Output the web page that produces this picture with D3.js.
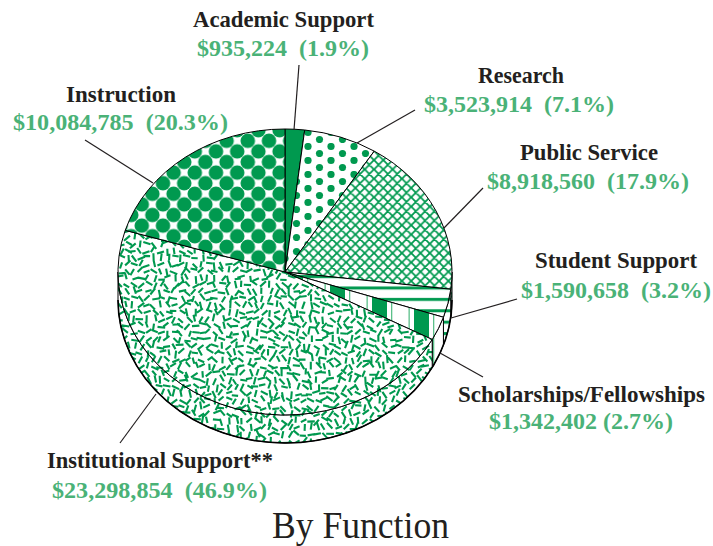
<!DOCTYPE html>
<html><head><meta charset="utf-8">
<script src="https://cdn.jsdelivr.net/npm/d3@7/dist/d3.min.js"></script>
<style>html,body{margin:0;background:#fff}svg{display:block}text{font-family:"Liberation Serif",serif;white-space:pre}</style>
</head><body><div id="chart"></div>
<script>
const categories = ["Academic Support","Research","Public Service","Student Support","Scholarships/Fellowships","Institutional Support**","Instruction"];
const amounts = [935224,3523914,8918560,1590658,1342402,23298854,10084785];
const percents = [1.9,7.1,17.9,3.2,2.7,46.9,20.3];
const gaps = ["  ","  ","  ","  "," ","  ","  "];
const patternIds = ["solid","dots","hatch","hstripes","vstripes","confetti","bigdots"];
const title = "By Function";

// layout, kept apart from the data: [name left, name right, name baseline, value left, value right, value baseline]
const labelBoxes = [
 [193,374,27, 197,369,56],
 [478,564,83, 424,614,112],
 [520,658,160, 487,689,189],
 [535,697,268, 521,711,298],
 [458,705,402, 489,673,429],
 [47,273,468, 52,267,498],
 [66,176,102, 13,228,130]];
const leaderLines = [
 [299,65,294,130],[415,110,357,143],[483,188,444,228],[517,299,451,318],
 [483,377,440,353],[120,443,156,394],[85,140,153,183]];

const W=713,H=546,GREEN="#00994f",TEXTGREEN="#4ab277",INK="#231f20";
const cx=285,cy=272,rx=167,ry=143,depth=28;
const sx=d3.scaleLinear().domain([-1,1]).range([cx-rx,cx+rx]);
const sy=d3.scaleLinear().domain([-1,1]).range([cy-ry,cy+ry]);
const px=a=>sx(Math.sin(a)), py=(a,dz=0)=>sy(-Math.cos(a))+dz;

const svg=d3.select("#chart").append("svg").attr("width",W).attr("height",H);
const defs=svg.append("defs");
function pat(id,w,h,x=0,y=0){return defs.append("pattern").attr("id",id).attr("patternUnits","userSpaceOnUse")
  .attr("width",w).attr("height",h).attr("x",x).attr("y",y);}
pat("solid",10,10).append("rect").attr("width",10).attr("height",10).attr("fill",GREEN);
// large dots
let p=pat("bigdots",21.2,21.2,4,3);
p.append("rect").attr("width",21.2).attr("height",21.2).attr("fill","#fff");
[[0,0],[21.2,0],[0,21.2],[21.2,21.2],[10.6,10.6]].forEach(c=>p.append("circle").attr("cx",c[0]).attr("cy",c[1]).attr("r",7.3).attr("fill",GREEN));
// small dots
p=pat("dots",23,14,5,3);
p.append("rect").attr("width",23).attr("height",14).attr("fill","#fff");
[[4,3.5],[15.5,10.5]].forEach(c=>p.append("circle").attr("cx",c[0]).attr("cy",c[1]).attr("r",3.6).attr("fill",GREEN));
// cross hatch
const H9=9.3;
p=pat("hatch",H9,H9,2,2);
p.append("rect").attr("width",H9).attr("height",H9).attr("fill","#fff");
p.append("path").attr("d",`M0,0L${H9},${H9}M${H9},0L0,${H9}M-2,2L2,-2M${H9-2},${H9+2}L${H9+2},${H9-2}M-2,${H9-2}L2,${H9+2}M${H9-2},-2L${H9+2},2`).attr("stroke",GREEN).attr("stroke-width",1.8);
// horizontal stripes
p=pat("hstripes",10,11.4,0,285.5);
p.append("rect").attr("width",10).attr("height",11.4).attr("fill","#fff");
p.append("rect").attr("y",1).attr("width",10).attr("height",3).attr("fill",GREEN);
// vertical stripes
p=pat("vstripes",42,10,330,0);
p.append("rect").attr("width",42).attr("height",10).attr("fill","#fff");
p.append("rect").attr("x",0).attr("width",15).attr("height",10).attr("fill",GREEN);
p.append("rect").attr("x",19).attr("width",1.3).attr("height",10).attr("fill","#5cc08a");
p.append("rect").attr("x",36.5).attr("width",1.3).attr("height",10).attr("fill","#5cc08a");
// confetti texture
const T=340,cell=6.8;
p=pat("confetti",T,T,110,125);
p.append("rect").attr("width",T).attr("height",T).attr("fill","#fff");
const frac=v=>v-Math.floor(v);
const dashes=[];
for(let i=0;i<T/cell;i++)for(let j=0;j<T/cell;j++){
  const h=(a,b)=>frac(Math.sin(i*a+j*b+1.7)*43758.5453);
  const x=(i+.2+.6*h(12.9898,78.233))*cell,y=(j+.2+.6*h(39.346,11.135))*cell;
  const t=h(73.156,52.235)*Math.PI,l=3.1+.9*h(94.673,17.77);
  dashes.push(`M${(x-l*Math.cos(t)).toFixed(1)},${(y-l*Math.sin(t)).toFixed(1)}L${(x+l*Math.cos(t)).toFixed(1)},${(y+l*Math.sin(t)).toFixed(1)}`);
}
p.append("path").attr("d",dashes.join("")).attr("stroke",GREEN).attr("stroke-width",2.1).attr("fill","none");

const pie=d3.pie().sort(null).startAngle(0).endAngle(2*Math.PI);
const arcs=pie(amounts);
const ell=(a,dz,sweep,to)=>{const large=Math.abs(to-a)>Math.PI?1:0;return `A${rx},${ry} 0 ${large} ${sweep} ${px(to)},${py(to,dz)}`;};

// rim: only the part of the circle facing the viewer
const rims=arcs.map(d=>({i:d.index,a:Math.max(d.startAngle,Math.PI/2),b:Math.min(d.endAngle,Math.PI*1.5)})).filter(d=>d.b>d.a);
svg.append("g").selectAll("path").data(rims).join("path")
  .attr("d",d=>`M${px(d.a)},${py(d.a)}${ell(d.a,0,1,d.b)}L${px(d.b)},${py(d.b,depth)}${ell(d.b,depth,0,d.a)}Z`)
  .attr("fill",d=>`url(#${patternIds[d.i]})`).attr("stroke","#000").attr("stroke-width",1).attr("stroke-linejoin","round");
// outer rim stronger
svg.append("path").attr("fill","none").attr("stroke","#000").attr("stroke-width",1.6)
  .attr("d",`M${px(Math.PI/2)},${py(Math.PI/2,depth)}${ell(Math.PI/2,depth,1,Math.PI*1.5)}`);

// top face
svg.append("g").selectAll("path").data(arcs).join("path")
  .attr("d",d=>`M${cx},${cy}L${px(d.startAngle)},${py(d.startAngle)}${ell(d.startAngle,0,1,d.endAngle)}Z`)
  .attr("fill",d=>`url(#${patternIds[d.index]})`).attr("stroke","#000").attr("stroke-width",1).attr("stroke-linejoin","round");

// leaders
svg.append("g").selectAll("line").data(leaderLines).join("line")
  .attr("x1",d=>d[0]).attr("y1",d=>d[1]).attr("x2",d=>d[2]).attr("y2",d=>d[3])
  .attr("stroke",INK).attr("stroke-width",1.2);

// labels
const lg=svg.append("g").selectAll("g").data(categories).join("g");
lg.append("text").text(d=>d).attr("x",(d,i)=>labelBoxes[i][0]).attr("y",(d,i)=>labelBoxes[i][2])
  .attr("textLength",(d,i)=>labelBoxes[i][1]-labelBoxes[i][0]).attr("lengthAdjust","spacingAndGlyphs")
  .attr("font-size",22.5).attr("font-weight",700).attr("fill",INK);
lg.append("text").text((d,i)=>"$"+d3.format(",")(amounts[i])+gaps[i]+"("+percents[i]+"%)")
  .attr("x",(d,i)=>labelBoxes[i][3]).attr("y",(d,i)=>labelBoxes[i][5])
  .attr("textLength",(d,i)=>labelBoxes[i][4]-labelBoxes[i][3]).attr("lengthAdjust","spacingAndGlyphs")
  .attr("font-size",24).attr("font-weight",700).attr("fill",TEXTGREEN);
svg.append("text").text(title).attr("x",272).attr("y",538).attr("textLength",177).attr("lengthAdjust","spacingAndGlyphs")
  .attr("font-size",37).attr("fill",INK);
</script></body></html>
